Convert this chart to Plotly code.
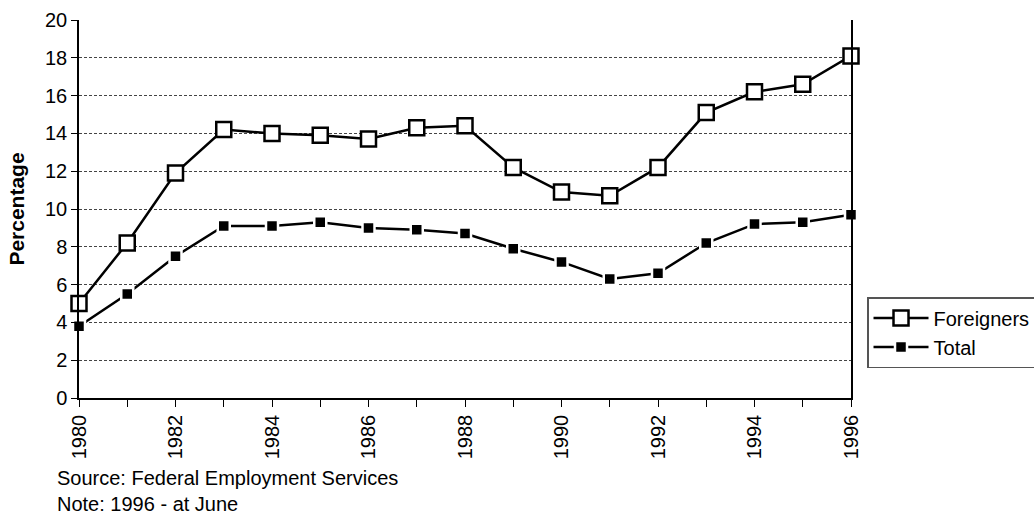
import plotly.graph_objects as go

years = list(range(1980, 1997))
foreigners = [5.0, 8.2, 11.9, 14.2, 14.0, 13.9, 13.7, 14.3, 14.4, 12.2, 10.9, 10.7, 12.2, 15.1, 16.2, 16.6, 18.1]
total = [3.8, 5.5, 7.5, 9.1, 9.1, 9.3, 9.0, 8.9, 8.7, 7.9, 7.2, 6.3, 6.6, 8.2, 9.2, 9.3, 9.7]
x_tick_text = [str(y) if y % 2 == 0 else "" for y in years]
y_ticks = list(range(0, 21, 2))

FONT = "Liberation Sans, Arial, sans-serif"
FS = 20

fig = go.Figure()
fig.add_trace(go.Scatter(
    x=years, y=foreigners, name="Foreigners", mode="lines+markers",
    line=dict(color="black", width=2.5),
    marker=dict(symbol="square", size=15, color="white", line=dict(color="black", width=2.5)),
    cliponaxis=False,
))
fig.add_trace(go.Scatter(
    x=years, y=total, name="Total", mode="lines+markers",
    line=dict(color="black", width=2.5),
    marker=dict(symbol="square", size=12, color="black", line=dict(color="white", width=2.5)),
    cliponaxis=False,
))

fig.update_layout(
    width=1034, height=516,
    margin=dict(l=79, r=183, t=20, b=118, autoexpand=False),
    paper_bgcolor="white", plot_bgcolor="white",
    font=dict(family=FONT, size=FS, color="black"),
    showlegend=True,
    legend=dict(
        xref="container", yref="container",
        x=0.8385, y=0.4244, xanchor="left", yanchor="top",
        bordercolor="#555555", borderwidth=1.5, bgcolor="white",
        font=dict(family=FONT, size=FS, color="black"),
        tracegroupgap=0, itemwidth=55,
    ),
    xaxis=dict(
        range=[1980, 1996], tickmode="array", tickvals=years, ticktext=x_tick_text,
        tickangle=-90, ticks="outside", ticklen=7, tickcolor="black", tickwidth=1,
        showline=True, linecolor="black", linewidth=1.5, mirror=False,
        showgrid=False, zeroline=False,
        tickfont=dict(family=FONT, size=FS),
    ),
    yaxis=dict(
        range=[0, 20], tickmode="array", tickvals=y_ticks,
        ticks="outside", ticklen=6, tickcolor="black", tickwidth=1,
        showline=True, linecolor="black", linewidth=1.5, mirror=True,
        showgrid=True, gridcolor="#444444", griddash="3px,2px", gridwidth=1,
        zeroline=False,
        tickfont=dict(family=FONT, size=FS),
        title=dict(text="<b>Percentage</b>", font=dict(family=FONT, size=21), standoff=15),
    ),
)

fig.add_annotation(
    text="Source: Federal Employment Services", xref="paper", yref="paper",
    x=-0.031, y=-0.211, xanchor="left", yanchor="middle", showarrow=False,
    font=dict(family=FONT, size=FS, color="black"),
)
fig.add_annotation(
    text="Note: 1996 - at June", xref="paper", yref="paper",
    x=-0.031, y=-0.280, xanchor="left", yanchor="middle", showarrow=False,
    font=dict(family=FONT, size=FS, color="black"),
)

fig.write_html("out.html")
